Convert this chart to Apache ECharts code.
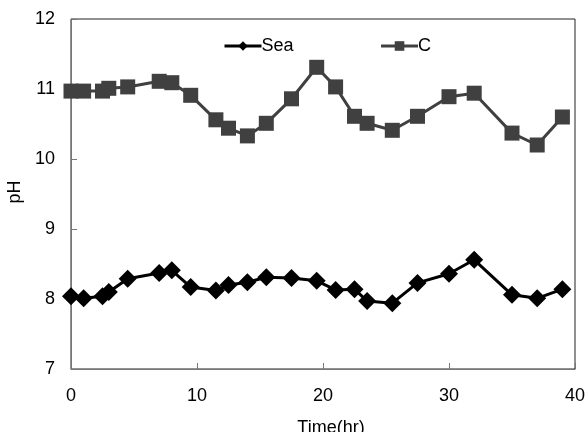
<!DOCTYPE html>
<html>
<head>
<meta charset="utf-8">
<script src="https://cdn.jsdelivr.net/npm/echarts@6/dist/echarts.min.js"></script>
<style>
  html, body { margin: 0; padding: 0; background: #fff; }
  #chart { width: 586px; height: 432px; }
</style>
</head>
<body>
<div id="chart"></div>
<script>
// time (hr) of each sample
const timeHr = [0, 1, 2.5, 3, 4.5, 7, 8, 9.5, 11.5, 12.5, 14, 15.5, 17.5, 19.5, 21, 22.5, 23.5, 25.5, 27.5, 30, 32, 35, 37, 39]
// pH values
const seaPH = [8.04, 8.01, 8.04, 8.10, 8.29, 8.37, 8.41, 8.17, 8.12, 8.20, 8.24, 8.31, 8.30, 8.26, 8.13, 8.14, 7.97, 7.94, 8.23, 8.36, 8.56, 8.06, 8.01, 8.14]
const cPH = [10.97, 10.97, 10.97, 11.01, 11.03, 11.11, 11.09, 10.91, 10.56, 10.44, 10.33, 10.51, 10.86, 11.31, 11.03, 10.61, 10.51, 10.41, 10.61, 10.89, 10.94, 10.37, 10.20, 10.60]

const font = 'Liberation Sans, Arial, sans-serif'
const pairs = (ys) => timeHr.map((t, i) => [t, ys[i]])

const chart = echarts.init(document.getElementById('chart'), null, { renderer: 'canvas' })

chart.setOption({
  backgroundColor: '#fff',
  animation: false,
  grid: {
    left: 71, right: 11, top: 19, bottom: 63,
    outerBoundsMode: 'none', containLabel: false,
    show: true, borderColor: '#222', borderWidth: 1
  },
  legend: {
    left: 218, top: 32,
    itemGap: 86, itemWidth: 37, itemHeight: 12,
    lineStyle: { width: 3 },
    textStyle: { fontFamily: font, fontSize: 18, color: '#000', padding: [0, 0, 0, -5] },
    data: ['Sea', 'C']
  },
  xAxis: {
    type: 'value', min: 0, max: 40, interval: 10,
    name: 'Time(hr)', nameLocation: 'middle', nameGap: 50,
    nameTextStyle: { fontFamily: font, fontSize: 18, color: '#000', padding: [0, 0, 0, 16] },
    axisLine: { lineStyle: { color: '#777', width: 1 } },
    axisTick: { inside: true, length: 6, lineStyle: { color: '#777' } },
    axisLabel: { fontFamily: font, fontSize: 18, color: '#000', margin: 18 },
    splitLine: { show: false }
  },
  yAxis: {
    type: 'value', min: 7, max: 12, interval: 1,
    name: 'pH', nameLocation: 'middle', nameGap: 41,
    nameTextStyle: { fontFamily: font, fontSize: 18, color: '#000', padding: [0, 0, 0, 4] },
    axisLine: { show: true, lineStyle: { color: '#777', width: 1 } },
    axisTick: { show: true, inside: true, length: 6, lineStyle: { color: '#777' } },
    axisLabel: { fontFamily: font, fontSize: 18, color: '#000', margin: 16 },
    splitLine: { show: false }
  },
  series: [
    {
      name: 'Sea', type: 'line', data: pairs(seaPH),
      symbol: 'diamond', symbolSize: 18,
      itemStyle: { color: '#000' },
      lineStyle: { color: '#000', width: 3 }
    },
    {
      name: 'C', type: 'line', data: pairs(cPH),
      symbol: 'rect', symbolSize: 15,
      itemStyle: { color: '#404040' },
      lineStyle: { color: '#404040', width: 3 }
    }
  ]
})
</script>
</body>
</html>
